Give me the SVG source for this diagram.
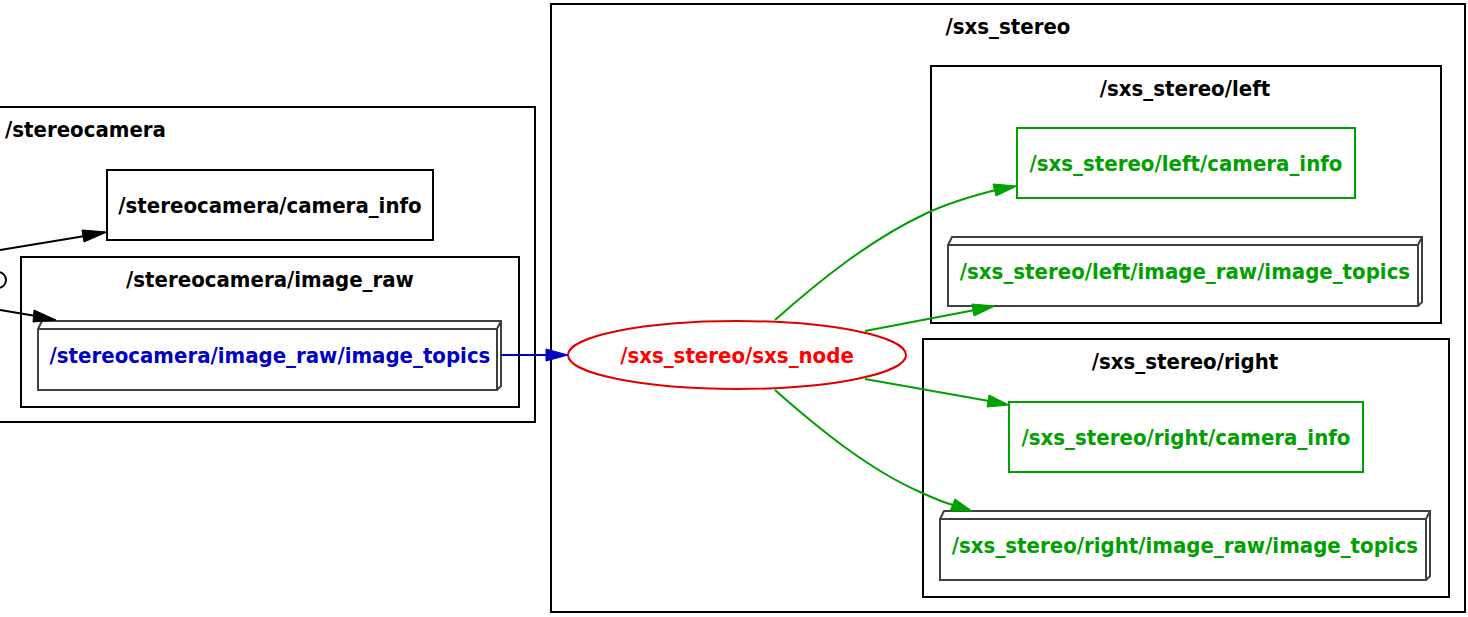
<svg xmlns="http://www.w3.org/2000/svg" width="1468" height="617" viewBox="0 0 1468 617">
<style>
text{font-family:"DejaVu Sans","Liberation Sans",sans-serif;font-weight:bold;font-stretch:condensed;font-size:22px;text-anchor:middle}
.cl{fill:none;stroke:#000;stroke-width:2}
.k{fill:#000}
.g{fill:#00a000}
.box{fill:#fff;stroke-width:2}
.b3{fill:#fff;stroke:#404040;stroke-width:2}
.eg{fill:none;stroke:#00a000;stroke-width:2}
</style>
<rect width="1468" height="617" fill="#fff"/>
<g id="cluster_stereocamera">
<rect class="cl" x="-5" y="107" width="540" height="315"/>
<text x="5" y="137" style="text-anchor:start">/stereocamera</text>
</g>
<g id="cluster_stereocamera_image_raw">
<rect class="cl" x="21" y="257" width="498" height="150"/>
<text x="270" y="287">/stereocamera/image_raw</text>
</g>
<g id="cluster_sxs_stereo">
<rect class="cl" x="551" y="4" width="914" height="608"/>
<text x="1008" y="34">/sxs_stereo</text>
</g>
<g id="cluster_sxs_stereo_left">
<rect class="cl" x="931" y="66" width="510" height="257"/>
<text x="1185" y="96">/sxs_stereo/left</text>
</g>
<g id="cluster_sxs_stereo_right">
<rect class="cl" x="923" y="339" width="526" height="258"/>
<text x="1185" y="369">/sxs_stereo/right</text>
</g>
<g id="n_left_stub">
<path d="M-2,272 A8,8 0 0 1 -2,288" fill="none" stroke="#000" stroke-width="2"/>
</g>
<g id="n_stereocamera_camera_info">
<rect class="box" stroke="#000" x="107" y="170" width="326" height="70"/>
<text class="k" x="270" y="213">/stereocamera/camera_info</text>
</g>
<g id="n_stereocamera_image_topics">
<path class="b3" d="M38,329 L42,321 L501,321 L501,386 L497,390 L38,390 Z"/>
<path d="M38,329 L497,329 L497,390 M497,329 L501,321" fill="none" stroke="#404040" stroke-width="2"/>
<text x="270" y="363" fill="#0000c0">/stereocamera/image_raw/image_topics</text>
</g>
<g id="n_sxs_node">
<ellipse cx="737" cy="355" rx="169" ry="34" fill="#fff" stroke="#e00000" stroke-width="2"/>
<text x="737" y="363" fill="#ff0000">/sxs_stereo/sxs_node</text>
</g>
<g id="n_left_camera_info">
<rect class="box" stroke="#00a000" x="1017" y="128" width="338" height="70"/>
<text class="g" x="1186" y="171">/sxs_stereo/left/camera_info</text>
</g>
<g id="n_left_image_topics">
<path class="b3" d="M948,245 L952,237 L1422,237 L1422,302 L1418,306 L948,306 Z"/>
<path d="M948,245 L1418,245 L1418,306 M1418,245 L1422,237" fill="none" stroke="#404040" stroke-width="2"/>
<text class="g" x="1185" y="279">/sxs_stereo/left/image_raw/image_topics</text>
</g>
<g id="n_right_camera_info">
<rect class="box" stroke="#00a000" x="1009" y="402" width="354" height="70"/>
<text class="g" x="1186" y="445">/sxs_stereo/right/camera_info</text>
</g>
<g id="n_right_image_topics">
<path class="b3" d="M940,519 L944,511 L1430,511 L1430,576 L1426,580 L940,580 Z"/>
<path d="M940,519 L1426,519 L1426,580 M1426,519 L1430,511" fill="none" stroke="#404040" stroke-width="2"/>
<text class="g" x="1185" y="553">/sxs_stereo/right/image_raw/image_topics</text>
</g>
<g id="connectors">
<path d="M0,250 L85,236" fill="none" stroke="#000" stroke-width="2"/>
<path d="M82,230 L107,232 L84,242 Z" fill="#000" stroke="#000"/>
<path d="M0,310 L36,316" fill="none" stroke="#000" stroke-width="2"/>
<path d="M34,310 L56,320 L33,322 Z" fill="#000" stroke="#000"/>
<path d="M501,355 L548,355" fill="none" stroke="#0000c0" stroke-width="2"/>
<path d="M546,349 L568,355 L546,361 Z" fill="#0000c0" stroke="#0000c0"/>
<path class="eg" d="M775,320 C820,280 870,240 925,214 C948,203 972,196 996,190"/>
<path d="M993,184 L1017,186 L996,196 Z" fill="#00a000" stroke="#00a000"/>
<path class="eg" d="M865,331 L975,310"/>
<path d="M972,304 L995,306 L974,316 Z" fill="#00a000" stroke="#00a000"/>
<path class="eg" d="M865,379 L989,401"/>
<path d="M989,395 L1009,405 L987,407 Z" fill="#00a000" stroke="#00a000"/>
<path class="eg" d="M775,390 C820,430 870,470 920,492 C933,498 942,502 953,505"/>
<path d="M955,499 L972,511 L950,511 Z" fill="#00a000" stroke="#00a000"/>
</g>
</svg>
